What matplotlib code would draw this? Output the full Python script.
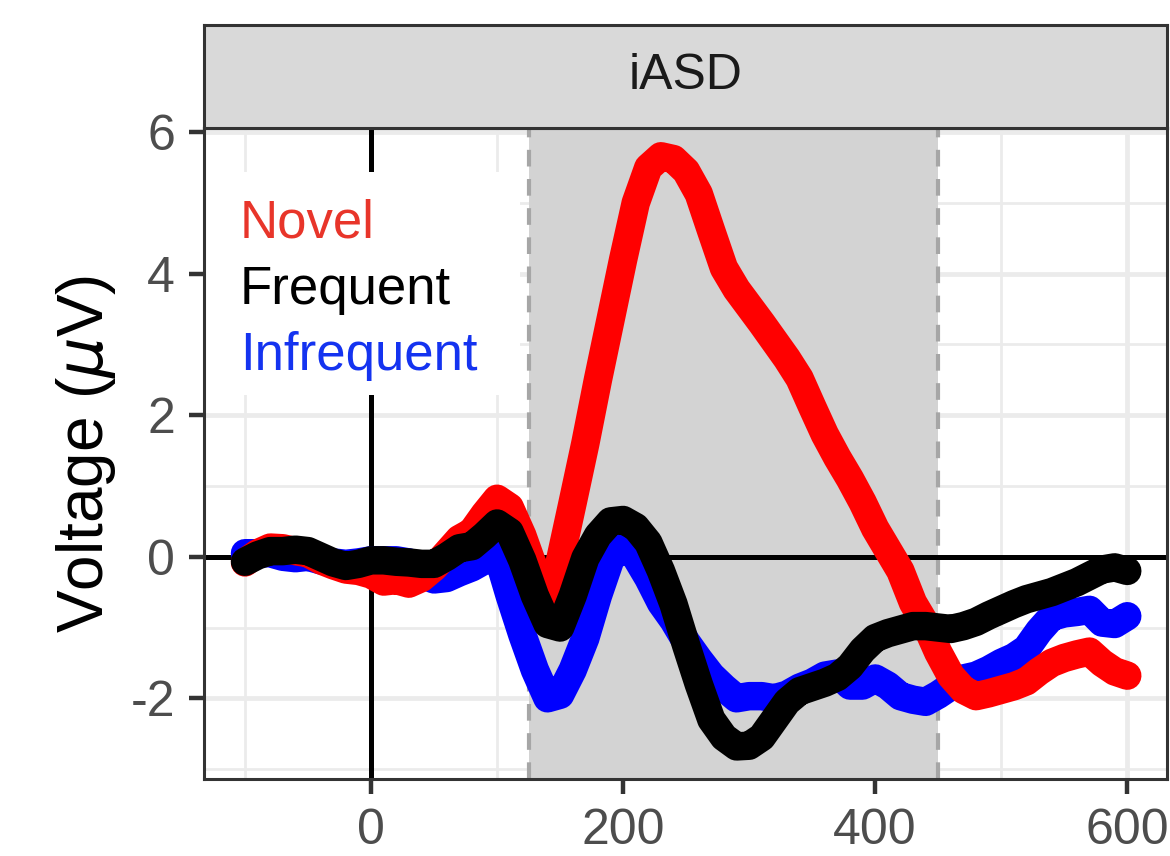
import numpy as np
import matplotlib.pyplot as plt
import matplotlib.patches as patches

# time axis (ms)
time_ms = list(range(-100, 601, 10))

novel = [-0.08, 0.05, 0.13, 0.12, 0.08, 0.05, -0.05, -0.12, -0.18, -0.2,
         -0.25, -0.35, -0.33, -0.38, -0.3, -0.15, 0.05, 0.25, 0.35, 0.6,
         0.82, 0.7, 0.3, -0.2, -0.72, -0.05, 0.77, 1.6, 2.5, 3.35,
         4.2, 5.0, 5.5, 5.66, 5.62, 5.45, 5.13, 4.6, 4.08, 3.78,
         3.54, 3.3, 3.05, 2.8, 2.52, 2.12, 1.73, 1.4, 1.1, 0.77,
         0.4, 0.1, -0.2, -0.65, -0.95, -1.35, -1.68, -1.88, -1.97, -1.93,
         -1.88, -1.83, -1.76, -1.62, -1.5, -1.43, -1.38, -1.34, -1.5, -1.62,
         -1.68]

frequent = [-0.07, 0.02, 0.08, 0.08, 0.1, 0.08, 0.0, -0.08, -0.13, -0.1,
            -0.05, -0.05, -0.07, -0.08, -0.1, -0.1, 0.0, 0.12, 0.15, 0.3,
            0.47, 0.35, -0.05, -0.55, -0.95, -1.0, -0.55, -0.02, 0.3, 0.5,
            0.52, 0.42, 0.2, -0.2, -0.67, -1.25, -1.8, -2.3, -2.55, -2.68,
            -2.67, -2.55, -2.3, -2.05, -1.9, -1.84, -1.78, -1.7, -1.55, -1.32,
            -1.15, -1.08, -1.03, -0.98, -0.98, -1.0, -1.02, -0.98, -0.92, -0.83,
            -0.75, -0.67, -0.6, -0.55, -0.5, -0.43, -0.36, -0.27, -0.18, -0.15,
            -0.2]

infrequent = [0.05, 0.05, 0.05, 0.0, -0.02, 0.0, -0.05, -0.08, -0.1, -0.08,
              -0.05, -0.05, -0.05, -0.08, -0.25, -0.32, -0.3, -0.22, -0.15, -0.05,
              0.05, -0.55, -1.1, -1.6, -2.0, -1.95, -1.6, -1.15, -0.55, -0.03,
              0.15, 0.0, -0.3, -0.65, -0.9, -1.2, -1.45, -1.68, -1.85, -2.0,
              -1.97, -1.97, -2.0, -1.95, -1.85, -1.78, -1.68, -1.65, -1.82, -1.82,
              -1.72, -1.82, -1.97, -2.02, -2.05, -1.95, -1.83, -1.72, -1.68, -1.6,
              -1.5, -1.42, -1.3, -1.05, -0.85, -0.8, -0.78, -0.75, -0.93, -0.95,
              -0.84]

window = [125, 450]
panel_title = "iASD"
legend_names = ["Novel", "Frequent", "Infrequent"]
legend_colors = ["#E8352A", "black", "#1433F0"]

plt.rcParams['font.family'] = ['Liberation Sans', 'DejaVu Sans']
plt.rcParams['axes.unicode_minus'] = False

fig = plt.figure(figsize=(11.7, 8.56), dpi=100)
ax = fig.add_axes([0.1744, 0.09, 0.823, 0.7605])

ax.set_xlim(-132.5, 631.5)
ax.set_ylim(-3.14, 6.06)

# grid (theme_bw style)
ax.set_xticks([0, 200, 400, 600])
ax.set_yticks([-2, 0, 2, 4, 6])
ax.set_xticks([-100, 100, 300, 500], minor=True)
ax.set_yticks([-3, -1, 1, 3, 5], minor=True)
ax.grid(which='major', color='#EBEBEB', linewidth=3.4, zorder=0)
ax.grid(which='minor', color='#EBEBEB', linewidth=2.0, zorder=0)
ax.set_axisbelow(True)

# analysis window
ax.axvspan(window[0], window[1], color='#D3D3D3', zorder=1, lw=0)
for w in window:
    ax.axvline(w, color='#A6A6A6', linestyle=(0, (4, 3)), linewidth=3, zorder=1.5)

ax.axhline(0, color='black', linewidth=3.6, zorder=2)
ax.axvline(0, color='black', linewidth=3.6, zorder=2)

ax.plot(time_ms, infrequent, color='#0000FF', linewidth=20.5,
        solid_capstyle='round', solid_joinstyle='round', zorder=3)
ax.plot(time_ms, novel, color='#FF0000', linewidth=20.5,
        solid_capstyle='round', solid_joinstyle='round', zorder=4)
ax.plot(time_ms, frequent, color='black', linewidth=20.5,
        solid_capstyle='round', solid_joinstyle='round', zorder=5)

# text legend box
ax.add_patch(patches.Rectangle((0.0, 0.59), 0.328, 0.342, transform=ax.transAxes,
                               facecolor='white', edgecolor='none', zorder=6))
for name, col, yb in zip(legend_names, legend_colors, [0.831, 0.730, 0.628]):
    ax.text(0.037, yb, name, transform=ax.transAxes, color=col, fontsize=38,
            va='baseline', ha='left', zorder=7)

for s in ax.spines.values():
    s.set_color('#333333')
    s.set_linewidth(2.2)
    s.set_zorder(8)

ax.tick_params(which='major', length=11, width=3.2, color='#333333',
               labelsize=36, labelcolor='#4D4D4D', pad=10)
ax.tick_params(which='minor', length=0)
ax.set_ylabel(r'Voltage ($\mu$V)', fontsize=46, labelpad=9)

# facet strip
strip = fig.add_axes([0.1744, 0.8505, 0.823, 0.1203])
strip.set_facecolor('#D9D9D9')
strip.set_xticks([])
strip.set_yticks([])
for s in strip.spines.values():
    s.set_color('#333333')
    s.set_linewidth(2.2)
strip.text(0.5, 0.5, panel_title, ha='center', va='center', fontsize=36,
           color='#1A1A1A', transform=strip.transAxes)

fig.savefig('out.png', dpi=100)
